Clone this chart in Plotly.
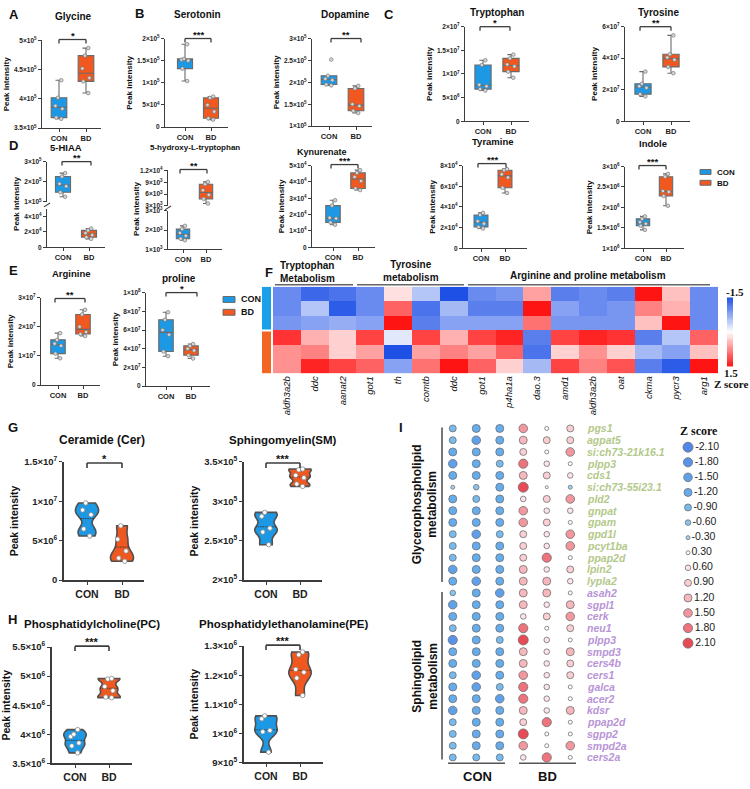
import numpy as np
import plotly.graph_objects as go

W, H = 750, 789
FONT = "Arial, 'Liberation Sans', sans-serif"
SERIF = "'Times New Roman', 'Liberation Serif', serif"
CON_C = '#1c98e4'
BD_C = '#f0581f'
EDGE = '#6a6a6a'
AXC = '#3c3c3c'

groups = ['CON', 'BD']

# ---------------- A-E box plot values ----------------
glycine_con = [4.32e5, 4.02e5, 3.88e5, 3.83e5, 3.68e5, 3.66e5]
glycine_bd = [4.87e5, 4.74e5, 4.52e5, 4.36e5, 4.30e5, 4.10e5]
serotonin_con = [1.87e5, 1.54e5, 1.52e5, 1.50e5, 1.32e5, 1.04e5]
serotonin_bd = [0.69e5, 0.66e5, 0.50e5, 0.35e5, 0.20e5, 0.17e5]
dopamine_con = [2.52e5, 2.15e5, 2.08e5, 2.05e5, 1.95e5, 1.93e5]
dopamine_bd = [1.92e5, 1.86e5, 1.50e5, 1.46e5, 1.35e5, 1.30e5]
tryptophan_con = [1.29e7, 1.19e7, 0.77e7, 0.74e7, 0.68e7, 0.65e7]
tryptophan_bd = [1.41e7, 1.33e7, 1.20e7, 1.16e7, 1.05e7, 0.92e7]
tyrosine_con = [3.15e7, 2.38e7, 2.22e7, 2.12e7, 1.72e7, 1.58e7]
tyrosine_bd = [5.45e7, 4.25e7, 4.05e7, 3.90e7, 3.45e7, 3.05e7]
hiaa_con = [2.43e5, 2.26e5, 1.90e5, 1.78e5, 1.48e5, 1.26e5]
hiaa_bd = [2.45e4, 2.20e4, 1.85e4, 1.60e4, 1.30e4, 1.10e4]
htp_con = [2.22e3, 2.05e3, 1.85e3, 1.70e3, 1.55e3, 1.47e3]
htp_bd = [9.1e3, 8.5e3, 7.0e3, 5.8e3, 4.8e3, 3.6e3]
kyn_con = [2.88e4, 2.55e4, 1.80e4, 1.76e4, 1.52e4, 1.38e4]
kyn_bd = [4.72e4, 4.55e4, 4.30e4, 4.05e4, 3.60e4, 3.50e4]
tyramine_con = [3.42e4, 3.22e4, 2.62e4, 2.38e4, 2.05e4, 1.92e4]
tyramine_bd = [7.65e4, 7.55e4, 7.15e4, 6.85e4, 5.85e4, 5.35e4]
indole_con = [1.78e6, 1.72e6, 1.64e6, 1.60e6, 1.55e6, 1.45e6]
indole_bd = [2.82e6, 2.75e6, 2.40e6, 2.38e6, 2.28e6, 2.04e6]
arginine_con = [1.78e7, 1.55e7, 1.42e7, 1.35e7, 1.08e7, 0.92e7]
arginine_bd = [2.58e7, 2.42e7, 2.00e7, 1.82e7, 1.75e7, 1.68e7]
proline_con = [7.9e7, 7.1e7, 6.0e7, 5.5e7, 3.7e7, 3.2e7]
proline_bd = [4.5e7, 4.3e7, 4.0e7, 3.8e7, 3.3e7, 2.95e7]

# ---------------- G-H violin values ----------------
cer_con = [9.8e6, 8.9e6, 8.3e6, 6.5e6, 5.6e6]
cer_bd = [6.9e6, 5.2e6, 3.7e6, 2.8e6, 2.4e6]
sm_con = [2.86e5, 2.81e5, 2.66e5, 2.61e5, 2.45e5]
sm_bd = [3.41e5, 3.40e5, 3.33e5, 3.30e5, 3.22e5, 3.19e5]
pc_con = [4.08e6, 4.00e6, 3.96e6, 3.85e6, 3.80e6, 3.68e6]
pc_bd = [4.96e6, 4.95e6, 4.82e6, 4.75e6, 4.64e6, 4.63e6]
pe_con = [1.06e6, 1.05e6, 1.01e6, 1.005e6, 0.935e6]
pe_bd = [1.28e6, 1.27e6, 1.22e6, 1.21e6, 1.19e6, 1.13e6]

# ---------------- F heatmap ----------------
hm_genes = ['aldh3a2b', 'ddc', 'aanat2', 'got1', 'th', 'comtb', 'ddc', 'got1',
            'p4ha1a', 'dao.3', 'amd1', 'aldh3a2b', 'oat', 'ckma', 'pycr3', 'arg1']
hm_con = [
    [-1.0, -1.3, -1.2, -1.0, 0.2, -0.5, -1.5, -1.0, -0.9, 0.6, -1.1, -1.0, -1.1, 1.5, 0.4, -1.0],
    [-1.0, -0.5, -1.4, -1.0, 1.0, -1.2, -0.6, -1.1, -1.1, 1.5, -0.8, -1.0, -0.9, 0.8, 0.5, -1.0],
    [-0.9, -0.8, -0.7, -0.8, 1.5, -1.1, -0.8, -0.8, -0.8, 0.9, -0.9, -0.9, -0.9, 0.4, 1.5, -1.0],
]
hm_bd = [
    [1.3, 0.5, 0.3, 1.2, -0.2, 1.2, 0.5, 1.2, 1.4, -1.1, 1.2, 1.4, 1.3, -1.1, -0.5, 1.0],
    [0.7, 0.8, 0.3, 0.6, -1.5, 0.6, 0.8, 0.6, 1.0, -1.2, 0.3, 0.7, 0.3, -0.6, -0.8, 0.4],
    [0.7, 1.4, 1.2, 1.0, -0.8, 0.9, 1.5, 1.0, 0.3, -0.6, 1.2, 0.8, 1.1, -1.1, -1.4, 1.5],
]
hm_scale_ticks = [-1.5, 1.5]

# ---------------- I dot plot ----------------
dot_samples = ['CON1', 'CON2', 'CON3', 'BD1', 'BD2', 'BD3']
gp_genes = ['pgs1', 'agpat5', 'si:ch73-21k16.1', 'plpp3', 'cds1', 'si:ch73-55i23.1', 'pld2',
            'gnpat', 'gpam', 'gpd1l', 'pcyt1ba', 'ppap2d', 'lpin2', 'lypla2']
gp_z = [
    [-0.9, -1.2, -1.2, 1.5, 0.3, 0.9],
    [-0.9, -1.5, -1.2, 1.2, 0.9, 0.9],
    [-1.2, -1.2, -1.2, 0.9, 0.3, 1.5],
    [-1.5, -1.2, -0.9, 1.8, 0.6, 0.3],
    [-1.2, -1.2, -1.2, 1.2, 0.9, 0.6],
    [-0.3, -0.6, -1.2, 2.1, 0.1, -0.3],
    [-1.2, -0.9, -1.2, 0.6, 0.9, 1.5],
    [-1.2, -1.2, -1.2, 1.5, 0.6, 0.6],
    [-1.2, -1.2, -1.2, 1.5, 0.9, 0.3],
    [-0.9, -1.5, -0.9, 0.9, 0.6, 1.5],
    [-0.9, -1.2, -1.2, 0.9, 0.6, 1.5],
    [-0.9, -1.2, -1.2, 0.9, 1.8, 0.3],
    [-1.5, -1.2, -1.2, 1.2, 0.6, 0.9],
    [-1.2, -1.5, -1.2, 1.2, 1.2, 0.6],
]
sl_genes = ['asah2', 'sgpl1', 'cerk', 'neu1', 'plpp3', 'smpd3', 'cers4b', 'cers1', 'galca',
            'acer2', 'kdsr', 'ppap2d', 'sgpp2', 'smpd2a', 'cers2a']
sl_z = [
    [-0.6, -1.2, -1.5, 1.2, 1.2, 0.3],
    [-1.5, -1.2, -1.2, 1.2, 0.6, 1.2],
    [-1.2, -1.2, -1.2, 0.6, 0.9, 1.5],
    [-0.9, -1.2, -1.2, 1.8, 0.3, 0.9],
    [-1.8, -1.2, -0.9, 2.1, 0.6, 0.3],
    [-1.2, -1.2, -1.2, 1.2, 0.6, 1.2],
    [-1.2, -1.2, -1.2, 1.2, 0.6, 0.9],
    [-0.9, -1.5, -1.2, 1.5, 0.6, 0.9],
    [-1.2, -1.5, -0.9, 1.8, 0.6, 0.3],
    [-1.2, -1.2, -1.5, 1.8, 0.6, 0.3],
    [-1.5, -1.2, -1.2, 1.2, 0.6, 1.2],
    [-0.9, -1.2, -1.2, 0.9, 1.8, 0.3],
    [-0.9, -1.2, -1.2, 2.1, 0.3, 0.3],
    [-0.9, -1.2, -1.2, 1.5, 0.3, 1.5],
    [-0.9, -0.9, -0.9, 0.6, 1.8, 0.3],
]
zlegend_vals = [-2.1, -1.8, -1.5, -1.2, -0.9, -0.6, -0.3, 0.3, 0.6, 0.9, 1.2, 1.5, 1.8, 2.1]

# ---------------- helpers ----------------
fig = go.Figure()
axes_layout = {}
annotations = []
shapes = []
count = [0]


def sci(v):
    if v == 0:
        return '0'
    e = int(np.floor(np.log10(v) + 1e-9))
    m = v / 10 ** e
    ms = f'{m:.1f}'.rstrip('0').rstrip('.')
    return f'{ms}×10<sup>{e}</sup>'


def new_axes(x0, x1, y0, y1, xr, yr, xo=None, yo=None):
    count[0] += 1
    n = count[0]
    s = '' if n == 1 else str(n)
    xa = dict(domain=[x0 / W, x1 / W], range=xr, anchor='y' + s, fixedrange=True,
              showgrid=False, zeroline=False)
    ya = dict(domain=[1 - y1 / H, 1 - y0 / H], range=yr, anchor='x' + s, fixedrange=True,
              showgrid=False, zeroline=False)
    xa.update(xo or {})
    ya.update(yo or {})
    axes_layout['xaxis' + s] = xa
    axes_layout['yaxis' + s] = ya
    return 'x' + s, 'y' + s


def text(x, y, t, size=10, bold=True, color='#111', xanchor='center', yanchor='middle',
         family=FONT, angle=0, italic=False, align='center'):
    annotations.append(dict(x=x / W, y=1 - y / H, xref='paper', yref='paper', text=t,
                            showarrow=False, xanchor=xanchor, yanchor=yanchor, textangle=angle,
                            align=align,
                            font=dict(size=size, color=color, family=family,
                                      weight='bold' if bold else 'normal',
                                      style='italic' if italic else 'normal')))


def line(x0, y0, x1, y1, color='#333', width=1.2):
    shapes.append(dict(type='line', xref='paper', yref='paper', x0=x0 / W, y0=1 - y0 / H,
                       x1=x1 / W, y1=1 - y1 / H, line=dict(color=color, width=width)))


def rect(x0, y0, x1, y1, fill, edge=EDGE, width=1):
    shapes.append(dict(type='rect', xref='paper', yref='paper', x0=x0 / W, y0=1 - y1 / H,
                       x1=x1 / W, y1=1 - y0 / H, fillcolor=fill, line=dict(color=edge, width=width)))


def bracket(xl, xr, y, stars, drop=4, size=9.5, width=1.3):
    line(xl, y + drop, xl, y, AXC, width)
    line(xl, y, xr, y, AXC, width)
    line(xr, y, xr, y + drop, AXC, width)
    text((xl + xr) / 2, y - 4, stars, size=size)


def axstyle(width=1.3):
    return dict(showline=True, linecolor=AXC, linewidth=width, ticks='outside', ticklen=3,
                tickwidth=1, tickcolor=AXC)


def panel_axes(yx, cx, bx, ex, ytop, ybot, vtop, vbot, yticks, show_x=True, ytitle=True,
               tickfs=6.5, xfs=7.5, titlefs=8, lw=1.3, standoff=3):
    s = bx - cx
    xr = [-(cx - yx) / s, 1 + (ex - bx) / s]
    xo = dict(type='category', categoryorder='array', categoryarray=groups,
              tickfont=dict(size=xfs, family=FONT, weight='bold', color='#222'), **axstyle(lw))
    if not show_x:
        xo.update(visible=False)
    yo = dict(tickvals=yticks, ticktext=[sci(v) for v in yticks],
              tickfont=dict(size=tickfs, family=FONT, weight='bold', color='#222'), **axstyle(lw))
    if ytitle:
        yo['title'] = dict(text='Peak intensity', standoff=standoff,
                           font=dict(size=titlefs, family=FONT, weight='bold', color='#111'))
    return new_axes(yx, ex, ytop, ybot, xr, [vbot, vtop], xo, yo)


def add_boxes(xa, ya, con_vals=None, bd_vals=None):
    for name, vals, col in (('CON', con_vals, CON_C), ('BD', bd_vals, BD_C)):
        if vals is None:
            continue
        fig.add_trace(go.Box(x=[name] * len(vals), y=vals, name=name, xaxis=xa, yaxis=ya,
                             boxpoints='all', jitter=0.55, pointpos=0, quartilemethod='exclusive',
                             fillcolor=col, line=dict(color=EDGE, width=1.1), width=0.58,
                             whiskerwidth=0.45,
                             marker=dict(color='#d6d6d6', size=3.6, line=dict(color='#777', width=0.7)),
                             showlegend=False, hoverinfo='skip'))


def add_violins(xa, ya, con_vals, bd_vals):
    for name, vals, col in (('CON', con_vals, CON_C), ('BD', bd_vals, BD_C)):
        bw = 0.16 * (max(vals) - min(vals))
        fig.add_trace(go.Violin(x=[name] * len(vals), y=vals, name=name, xaxis=xa, yaxis=ya,
                                fillcolor=col, line=dict(color='#505050', width=1.6),
                                points='all', pointpos=0, jitter=0.45, spanmode='hard',
                                bandwidth=bw, width=0.66, scalemode='width',
                                meanline=dict(visible=True, color='#333', width=0.8),
                                marker=dict(color='white', size=4.5, line=dict(color='#888', width=0.8)),
                                showlegend=False, hoverinfo='skip'))


# ---------------- Row 1: A, B, C ----------------
xa, ya = panel_axes(42, 59, 86, 101, 34, 123, 5e5, 3.5e5, [3.5e5, 4e5, 4.5e5, 5e5])
add_boxes(xa, ya, glycine_con, glycine_bd)
text(73, 10, 'Glycine', 10)
bracket(59, 86, 33, '*')

xa, ya = panel_axes(165, 185, 211, 228, 32, 122, 2e5, 0, [0, 5e4, 1e5, 1.5e5, 2e5])
add_boxes(xa, ya, serotonin_con, serotonin_bd)
text(197, 8, 'Serotonin', 10)
bracket(185, 211, 32, '***')

xa, ya = panel_axes(312, 329, 356, 372, 32, 121, 3e5, 1e5, [1e5, 1.5e5, 2e5, 2.5e5, 3e5])
add_boxes(xa, ya, dopamine_con, dopamine_bd)
text(345, 8, 'Dopamine', 10)
bracket(331, 361, 32, '**')

xa, ya = panel_axes(465, 483, 511, 529, 20, 116, 2e7, 0, [0, 5e6, 1e7, 1.5e7, 2e7])
add_boxes(xa, ya, tryptophan_con, tryptophan_bd)
text(497, 6, 'Tryptophan', 10)
bracket(480, 510, 20, '*')

xa, ya = panel_axes(625, 643, 671, 690, 20, 116, 6e7, 0, [0, 2e7, 4e7, 6e7])
add_boxes(xa, ya, tyrosine_con, tyrosine_bd)
text(658, 6, 'Tyrosine', 10)
bracket(640, 671, 20, '**')

# ---------------- Row 2: D ----------------
xa, ya = panel_axes(47, 63, 89, 105, 157, 198, 3e5, 1e5, [1e5, 2e5, 3e5], show_x=False, ytitle=False)
add_boxes(xa, ya, con_vals=hiaa_con)
xa, ya = panel_axes(47, 63, 89, 105, 205, 244, 5e4, 0, [0, 2e4, 4e4], ytitle=False)
add_boxes(xa, ya, bd_vals=hiaa_bd)
line(44, 203, 50, 199, AXC, 1.1)
text(17, 200, 'Peak intensity', 8, angle=-90)
text(66, 143, '5-HIAA', 9.5)
bracket(62, 91, 157, '**')

xa, ya = panel_axes(168, 183, 206, 222, 166, 202, 1.2e4, 3e3, [3e3, 6e3, 9e3, 1.2e4], show_x=False, ytitle=False)
add_boxes(xa, ya, bd_vals=htp_bd)
xa, ya = panel_axes(168, 183, 206, 222, 207, 246, 3e3, 1e3, [1e3, 2e3, 3e3], ytitle=False)
add_boxes(xa, ya, con_vals=htp_con)
line(165, 206, 171, 202, AXC, 1.1)
text(137, 205, 'Peak intensity', 8, angle=-90)
text(195, 143, '5-hydroxy-L-tryptophan', 8)
bracket(180, 207, 165, '**')

xa, ya = panel_axes(312, 333, 358, 375, 161, 244, 5e4, 0, [0, 1e4, 2e4, 3e4, 4e4, 5e4])
add_boxes(xa, ya, kyn_con, kyn_bd)
text(322, 147, 'Kynurenate', 9)
bracket(331, 358, 160, '***')

xa, ya = panel_axes(463, 481, 505, 527, 161, 245, 8e4, 0, [0, 2e4, 4e4, 6e4, 8e4])
add_boxes(xa, ya, tyramine_con, tyramine_bd)
text(493, 137, 'Tyramine', 9.5)
bracket(478, 506, 159, '***')

xa, ya = panel_axes(625, 643, 666, 684, 162, 245, 3e6, 1e6, [1e6, 1.5e6, 2e6, 2.5e6, 3e6])
add_boxes(xa, ya, indole_con, indole_bd)
text(653, 139, 'Indole', 9.5)
bracket(639, 666, 161, '***')

# legend D
rect(700, 165, 711, 170, CON_C)
rect(700, 176, 711, 181, BD_C)
text(715, 168, 'CON', 8, xanchor='left')
text(715, 179, 'BD', 8, xanchor='left')

# ---------------- Row 3: E ----------------
xa, ya = panel_axes(41, 58, 83, 100, 295, 384, 3e7, 0, [0, 1e7, 2e7, 3e7])
add_boxes(xa, ya, arginine_con, arginine_bd)
text(71, 271, 'Arginine', 9.5)
bracket(55, 85, 296, '**')

xa, ya = panel_axes(146, 166, 191, 210, 290, 385, 1e8, 0, [0, 2e7, 4e7, 6e7, 8e7, 1e8])
add_boxes(xa, ya, proline_con, proline_bd)
text(179, 276, 'proline', 10)
bracket(166, 197, 290, '*')

rect(223, 294, 235, 300, CON_C)
rect(223, 307, 235, 313, BD_C)
text(239, 297, 'CON', 9, xanchor='left')
text(239, 310, 'BD', 9, xanchor='left')

# ---------------- F heatmap ----------------
hm_z = hm_con + hm_bd
hm_scale = [[0, '#1e50e6'], [0.5, '#ffffff'], [1, '#ff1414']]
xa, ya = new_axes(273, 718, 284, 372, [-0.5, len(hm_genes) - 0.5], [len(hm_z) - 0.5, -0.5],
                  dict(tickvals=list(range(len(hm_genes))), ticktext=hm_genes, tickangle=-90,
                       ticks='', showline=False,
                       tickfont=dict(size=9.5, family=FONT, style='italic', color='#111')),
                  dict(visible=False))
fig.add_trace(go.Heatmap(z=hm_z, x=list(range(len(hm_genes))), y=list(range(len(hm_z))),
                         colorscale=hm_scale, zmin=hm_scale_ticks[0], zmax=hm_scale_ticks[1],
                         showscale=False, xaxis=xa, yaxis=ya, hoverinfo='skip'))
side_groups = [[0]] * len(hm_con) + [[1]] * len(hm_bd)
xa, ya = new_axes(262, 271, 284, 372, [-0.5, 0.5], [len(hm_z) - 0.5, -0.5],
                  dict(visible=False), dict(visible=False))
fig.add_trace(go.Heatmap(z=side_groups, colorscale=[[0, '#1aa0e8'], [0.5, '#1aa0e8'],
                                                    [0.5, '#f26522'], [1, '#f26522']],
                         zmin=0, zmax=1, showscale=False, xaxis=xa, yaxis=ya, hoverinfo='skip'))
line(260, 328.5, 273, 328.5, 'white', 2)
cbar_vals = list(np.linspace(hm_scale_ticks[0], hm_scale_ticks[1], 60))
xa, ya = new_axes(727, 733, 295, 365, [-0.5, 0.5], [hm_scale_ticks[1], hm_scale_ticks[0]],
                  dict(visible=False), dict(visible=False))
fig.add_trace(go.Heatmap(z=[[v] for v in cbar_vals], y=cbar_vals, x=[0], colorscale=hm_scale,
                         zmin=hm_scale_ticks[0], zmax=hm_scale_ticks[1], showscale=False,
                         xaxis=xa, yaxis=ya, hoverinfo='skip'))
text(735, 289, '-1.5', 11, family=SERIF)
text(731, 372, '1.5', 11, family=SERIF)
text(731, 383, 'Z score', 11, family=SERIF)
text(278, 269, 'Tryptophan<br>Metabolism', 10, xanchor='left', align='left')
text(411, 268, 'Tyrosine<br>metabolism', 10)
text(588, 273, 'Arginine and proline metabolism', 10)
line(275, 282, 353, 282, '#666', 1.6)
line(357, 282, 464, 282, '#666', 1.6)
line(468, 282, 710, 282, '#666', 1.6)

# ---------------- G, H violins ----------------
vkw = dict(tickfs=9.5, xfs=10.5, titlefs=10.5, lw=1.6, standoff=4)
xa, ya = panel_axes(64, 87, 122, 144, 462, 582, 1.5e7, 0, [0, 5e6, 1e7, 1.5e7], **vkw)
add_violins(xa, ya, cer_con, cer_bd)
text(102, 440, 'Ceramide (Cer)', 12)
bracket(87, 122, 463, '*', drop=5, size=11, width=1.6)

xa, ya = panel_axes(244, 266, 300, 322, 462, 582, 3.5e5, 2e5, [2e5, 2.5e5, 3e5, 3.5e5], **vkw)
add_violins(xa, ya, sm_con, sm_bd)
text(283, 440, 'Sphingomyelin(SM)', 11.5)
bracket(266, 300, 463, '***', drop=5, size=11, width=1.6)

xa, ya = panel_axes(52, 75, 109, 132, 650, 768, 5.5e6, 3.5e6, [3.5e6, 4e6, 4.5e6, 5e6, 5.5e6], **vkw)
add_violins(xa, ya, pc_con, pc_bd)
text(92, 627, 'Phosphatidylcholine(PC)', 11.5)
bracket(75, 109, 649, '***', drop=5, size=11, width=1.6)

xa, ya = panel_axes(244, 266, 300, 323, 649, 767, 1.3e6, 9e5, [9e5, 1e6, 1.1e6, 1.2e6, 1.3e6], **vkw)
add_violins(xa, ya, pe_con, pe_bd)
text(283, 627, 'Phosphatidylethanolamine(PE)', 11.5)
bracket(266, 300, 648, '***', drop=5, size=11, width=1.6)

# ---------------- I dot plot ----------------
dot_scale = [[0, '#0a55e0'], [0.0714, '#1466e0'], [0.143, '#1d78e2'], [0.214, '#2589e4'],
             [0.286, '#3d9de8'], [0.357, '#56acec'], [0.429, '#7dbff2'], [0.5, '#ffffff'],
             [0.571, '#ffffff'], [0.643, '#fcd9dd'], [0.714, '#f8bac0'], [0.786, '#f49aa2'],
             [0.857, '#ee6b75'], [0.929, '#e73847'], [1, '#e00010']]
size_z = [0, 0.3, 0.6, 0.9, 1.2, 1.5, 1.8, 2.1]
size_px = [2.5, 4, 5.6, 7, 8, 8.6, 9.2, 10]

all_genes = gp_genes + sl_genes
all_z = gp_z + sl_z
gene_colors = ['#b3c98b'] * len(gp_genes) + ['#b894d6'] * len(sl_genes)
xs, ys, zs = [], [], []
for i, row in enumerate(all_z):
    for j, v in enumerate(row):
        xs.append(j)
        ys.append(i)
        zs.append(v)
n_rows = len(all_genes)
col_px = (582 - 441) / len(dot_samples)
dot_right = 675
xa, ya = new_axes(441, dot_right, 422, 768,
                  [-0.5, -0.5 + (dot_right - 441) / col_px], [n_rows - 0.5, -0.5],
                  dict(visible=False), dict(visible=False))
fig.add_trace(go.Scatter(x=xs, y=ys, mode='markers', xaxis=xa, yaxis=ya, hoverinfo='skip',
                         marker=dict(size=np.interp(np.abs(zs), size_z, size_px), color=zs,
                                     colorscale=dot_scale, cmin=-2.1, cmax=2.1,
                                     line=dict(color='#333', width=0.8)),
                         showlegend=False))
for i, g in enumerate(all_genes):
    annotations.append(dict(x=len(dot_samples) - 0.38, y=i, xref=xa, yref=ya, text=g,
                            showarrow=False, xanchor='left', yanchor='middle',
                            font=dict(size=10.5, family=FONT, weight='bold', style='italic',
                                      color=gene_colors[i])))
line(442, 427, 442, 584, '#555', 1.6)
line(442, 594, 442, 764, '#555', 1.6)
text(425, 505, 'Glycerophospholipid<br>metabolism', 12, angle=-90)
text(425, 680, 'Sphingolipid<br>metabolism', 12, angle=-90)
line(448, 768, 505, 768, '#555', 1.6)
line(519, 768, 576, 768, '#555', 1.6)
text(477, 781, 'CON', 13)
text(547, 781, 'BD', 13)

xa, ya = new_axes(681, 695, 439.35, 653.65, [-0.5, 0.5], [len(zlegend_vals) - 0.5, -0.5],
                  dict(visible=False), dict(visible=False))
fig.add_trace(go.Scatter(x=[0] * len(zlegend_vals), y=list(range(len(zlegend_vals))),
                         mode='markers+text', text=[f'{v:.2f}' for v in zlegend_vals],
                         textposition='middle right', cliponaxis=False,
                         textfont=dict(size=10.5, family=FONT, color='#222'),
                         marker=dict(size=np.interp(np.abs(zlegend_vals), size_z, size_px),
                                     color=zlegend_vals, colorscale=dot_scale, cmin=-2.1, cmax=2.1,
                                     line=dict(color='#333', width=0.8)),
                         xaxis=xa, yaxis=ya, hoverinfo='skip', showlegend=False))
text(699, 431, 'Z score', 12, family=SERIF)

# ---------------- panel letters ----------------
for letter, lx, ly in (('A', 7, 8), ('B', 133, 7), ('C', 382, 8), ('D', 7, 141), ('E', 7, 268),
                       ('F', 263, 270), ('G', 6, 427), ('H', 6, 622), ('I', 397, 427)):
    text(lx, ly, letter, 13, xanchor='left')

fig.update_layout(width=W, height=H, margin=dict(l=0, r=0, t=0, b=0), paper_bgcolor='white',
                  plot_bgcolor='white', showlegend=False, boxmode='overlay', violinmode='overlay',
                  font=dict(family=FONT, color='#222'), annotations=annotations, shapes=shapes,
                  **axes_layout)
fig.write_html('out.html', config={'displayModeBar': False},
               post_script="document.body.style.margin='0';")
